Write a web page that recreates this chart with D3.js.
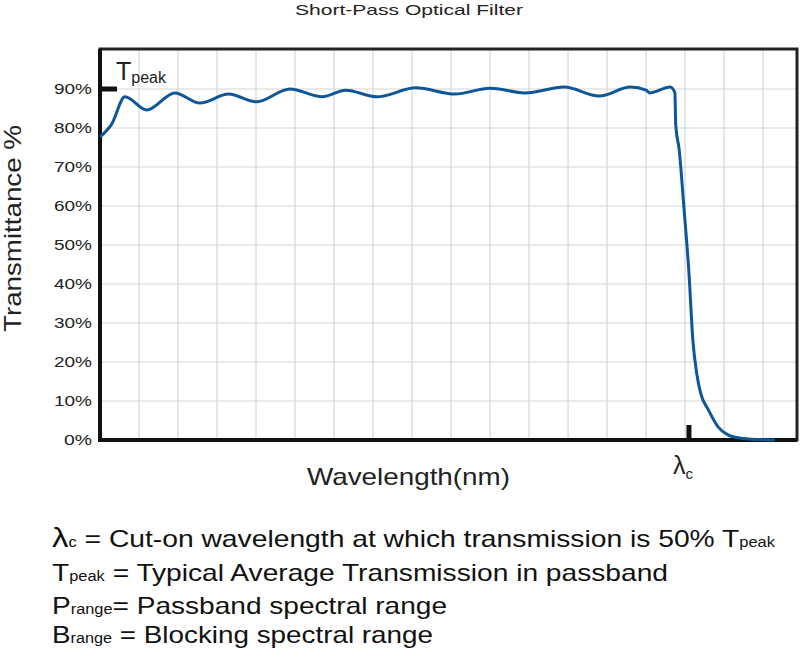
<!DOCTYPE html><html><head><meta charset="utf-8"><script src="https://cdn.jsdelivr.net/npm/d3@7"></script>
<style>body{margin:0;background:#fff}text{font-family:Arial,"Liberation Sans",sans-serif}</style></head><body><svg id="c" width="800" height="665"></svg>
<script>
const wavelengthUnits=[0,0.3,0.64,1.2,1.92,2.56,3.3,4.0,4.87,5.7,6.3,7.1,8.1,9.1,10.0,10.9,11.9,12.8,13.6,14.0,14.1,14.62,14.74,14.76,14.85,14.97,15.1,15.2,15.3,15.4,15.6,15.85,16.1,16.4,16.9,17.3];
const transmittance=[77.7,81,88,84.6,89,86.4,88.7,86.7,90,88,89.7,88,90.3,88.7,90.2,89,90.5,88.2,90.5,89.7,89,90.5,89,81,74.4,59.7,42.8,25.6,17,12,7.7,3.3,1.3,0.5,0.1,0];
const yTicks=[0,10,20,30,40,50,60,70,80,90];
const yTickLabels=yTicks.map(v=>v+"%");
const legendLines=[["λ","c"," = Cut-on wavelength at which transmission is 50% T","peak"],["T","peak","  = Typical Average Transmission in passband",""],["P","range","= Passband spectral range",""],["B","range"," = Blocking spectral range",""]];
const legendWidths=[723,616,395,381];
const svg=d3.select("#c");
const L=100,R=797,T=49,B=440;
const x=d3.scaleLinear().domain([0,17.87]).range([L,R]);
const y=d3.scaleLinear().domain([0,100]).range([B,T+1]);
const g=svg.append("g");
d3.range(1,18).forEach(i=>g.append("line").attr("x1",x(i)).attr("x2",x(i)).attr("y1",T).attr("y2",B).attr("stroke","#d6d6d6").attr("stroke-width",1.2));
yTicks.slice(1).forEach(v=>g.append("line").attr("x1",L).attr("x2",R).attr("y1",y(v)).attr("y2",y(v)).attr("stroke","#d6d6d6").attr("stroke-width",1.2));
svg.append("rect").attr("x",L).attr("y",T).attr("width",R-L).attr("height",B-T).attr("fill","none").attr("stroke","#222").attr("stroke-width",3);
svg.append("line").attr("x1",L).attr("x2",L).attr("y1",T).attr("y2",B+2).attr("stroke","#111").attr("stroke-width",4);
svg.append("line").attr("x1",L-2).attr("x2",R).attr("y1",B).attr("y2",B).attr("stroke","#111").attr("stroke-width",4);
yTicks.forEach((v,i)=>svg.append("text").attr("x",92).attr("y",y(v)+5).attr("text-anchor","end").attr("font-size",15).attr("textLength",v?38:28).attr("lengthAdjust","spacingAndGlyphs").attr("fill","#222").text(yTickLabels[i]));
const line=d3.line().x((d,i)=>x(wavelengthUnits[i])).y(d=>y(d)).curve(d3.curveMonotoneX);
svg.append("path").datum(transmittance).attr("d",line).attr("fill","none").attr("stroke","#0f5697").attr("stroke-width",3);
svg.append("line").attr("x1",L).attr("x2",117).attr("y1",y(90)).attr("y2",y(90)).attr("stroke","#111").attr("stroke-width",5);
svg.append("line").attr("x1",x(15.1)).attr("x2",x(15.1)).attr("y1",425).attr("y2",B).attr("stroke","#111").attr("stroke-width",5);
const tp=svg.append("text").attr("x",116).attr("y",80).attr("font-size",25).attr("fill","#222");
tp.append("tspan").text("T");tp.append("tspan").attr("font-size",16).attr("dy",3).text("peak");
const lc=svg.append("text").attr("x",673).attr("y",474).attr("font-size",25).attr("fill","#222");
lc.append("tspan").text("λ");lc.append("tspan").attr("font-size",15).attr("dy",5).text("c");
svg.append("text").attr("x",295).attr("y",15).attr("font-size",15).attr("textLength",228).attr("lengthAdjust","spacingAndGlyphs").attr("fill","#222").text("Short-Pass Optical Filter");
svg.append("text").attr("transform","translate(21,332) rotate(-90)").attr("font-size",24).attr("textLength",207).attr("lengthAdjust","spacingAndGlyphs").attr("fill","#222").text("Transmittance %");
svg.append("text").attr("x",307).attr("y",485).attr("font-size",24).attr("textLength",203).attr("lengthAdjust","spacingAndGlyphs").attr("fill","#222").text("Wavelength(nm)");
const ly=[547,581,614,643];
legendLines.forEach((l,i)=>{const t=svg.append("text").attr("x",52).attr("y",ly[i]).attr("font-size",24).attr("textLength",legendWidths[i]).attr("lengthAdjust","spacingAndGlyphs").attr("fill","#111");
t.append("tspan").attr("font-size",i==0?28:24).text(l[0]);t.append("tspan").attr("font-size",14).text(l[1]);
t.append("tspan").text(l[2]);if(l[3])t.append("tspan").attr("font-size",14).text(l[3]);});
</script></body></html>
